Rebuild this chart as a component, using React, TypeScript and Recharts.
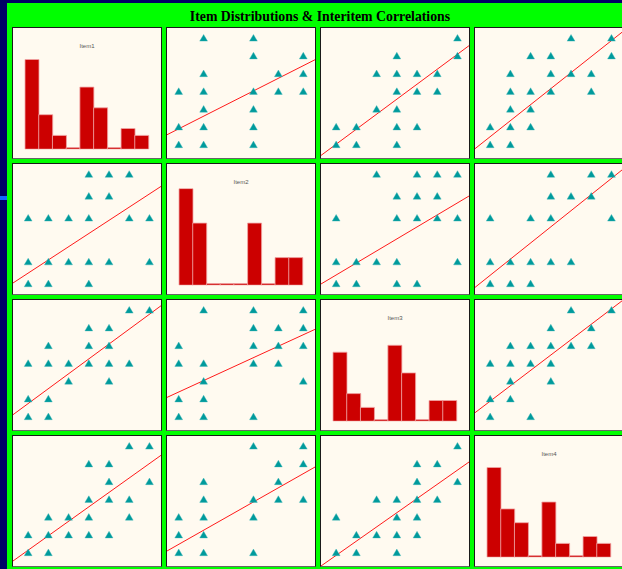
import React from 'react';
import { ScatterChart, Scatter, XAxis, YAxis, ReferenceLine, BarChart, Bar } from 'recharts';

// ---------- data ----------
const itemNames = ['Item1', 'Item2', 'Item3', 'Item4'];
const histBins = ['1', '2', '3', '4', '5', '6', '7', '8', '9'];
const histItem1 = [13, 5, 2, 0, 9, 6, 0, 3, 2];
const histItem2 = [14, 9, 0, 0, 0, 9, 0, 4, 4];
const histItem3 = [10, 4, 2, 0, 11, 7, 0, 3, 3];
const histItem4 = [13, 7, 5, 0, 8, 2, 0, 3, 2];
const histMax = 14;

// axis ranges of each item in the scatter panels
const itemDomains: [number, number][] = [
  [0.25, 7.57],
  [0.53, 6.47],
  [0.25, 7.57],
  [0.25, 7.57],
];

// observed response pairs [first item, second item]
const pairs12 = [[4,6],[5,6],[6,6],[4,5],[5,5],[1,4],[2,4],[3,4],[4,4],[6,4],[7,4],[1,2],[2,2],[3,2],[4,2],[5,2],[7,2],[1,1],[2,1],[4,1]];
const pairs13 = [[6,7],[7,7],[4,6],[5,6],[2,5],[4,5],[5,5],[1,4],[2,4],[3,4],[4,4],[5,4],[6,4],[3,3],[5,3],[1,2],[2,2],[1,1],[2,1]];
const pairs14 = [[6,7],[7,7],[4,6],[5,6],[5,5],[7,5],[4,4],[5,4],[6,4],[2,3],[3,3],[4,3],[6,3],[1,2],[2,2],[3,2],[4,2],[5,2],[1,1],[2,1]];
const pairs23 = [[2,7],[4,7],[6,7],[4,6],[5,6],[6,6],[1,5],[4,5],[5,5],[6,5],[1,4],[2,4],[4,4],[5,4],[2,3],[6,3],[1,2],[2,2],[1,1],[2,1],[4,1]];
const pairs24 = [[4,7],[6,7],[5,6],[6,6],[2,5],[5,5],[2,4],[4,4],[5,4],[6,4],[1,3],[2,3],[4,3],[1,2],[2,2],[1,1],[2,1],[4,1]];
const pairs34 = [[7,7],[5,6],[6,6],[5,5],[7,5],[3,4],[4,4],[5,4],[6,4],[1,3],[4,3],[5,3],[2,2],[3,2],[4,2],[5,2],[1,1],[2,1],[4,1]];

// fitted lines (y item on x item): row = y item, col = x item
const regRow = [0, 0, 0, 1, 1, 1, 2, 2, 2, 3, 3, 3];
const regCol = [1, 2, 3, 0, 2, 3, 0, 1, 3, 0, 1, 2];
const regIntercept = [1.183, 0.185, 0.548, 0.882, 0.85, 0.647, 0.902, 1.744, 1.008, 0.329, 0.673, 0.05];
const regSlope = [0.711, 0.844, 0.902, 0.603, 0.549, 0.738, 0.838, 0.645, 0.866, 0.813, 0.796, 0.8];

// ---------- layout ----------
const W = 622;
const H = 569;
const colLeft = [12, 166, 320, 474];
const rowTop = [27, 163, 299, 435];
const PW = 150;
const PH = 132;

const hists = [histItem1, histItem2, histItem3, histItem4];
const pairTable: Record<string, number[][]> = {
  '0-1': pairs12, '0-2': pairs13, '0-3': pairs14,
  '1-2': pairs23, '1-3': pairs24, '2-3': pairs34,
};

function panelPoints(r: number, c: number) {
  // x = item c, y = item r
  if (c < r) {
    return pairTable[`${c}-${r}`].map(([a, b]) => ({ x: a, y: b }));
  }
  return pairTable[`${r}-${c}`].map(([a, b]) => ({ x: b, y: a }));
}

const Tri = (props: any) => {
  const { cx, cy } = props;
  if (cx == null || cy == null) return null;
  const d = `M${cx},${cy - 3.6} L${cx + 3.9},${cy + 3} L${cx - 3.9},${cy + 3} Z`;
  return <path d={d} fill="#009a9c" stroke="#3bb5b7" strokeWidth={0.4} />;
};

function ScatterPanel({ r, c }: { r: number; c: number }) {
  const data = panelPoints(r, c);
  const xd = itemDomains[c];
  const yd = itemDomains[r];
  let k = 0;
  for (let i = 0; i < regRow.length; i++) if (regRow[i] === r && regCol[i] === c) k = i;
  const a = regIntercept[k];
  const b = regSlope[k];
  return (
    <ScatterChart width={PW - 2} height={PH - 2} margin={{ top: 0, right: 0, bottom: 0, left: 0 }}>
      <XAxis type="number" dataKey="x" domain={xd} allowDataOverflow hide />
      <YAxis type="number" dataKey="y" domain={yd} allowDataOverflow hide />
      <ReferenceLine
        segment={[{ x: xd[0], y: a + b * xd[0] }, { x: xd[1], y: a + b * xd[1] }]}
        stroke="#ff1a1a"
        strokeWidth={1}
        ifOverflow="hidden"
      />
      <Scatter data={data} shape={<Tri />} isAnimationActive={false} />
    </ScatterChart>
  );
}

function HistPanel({ i }: { i: number }) {
  const data = histBins.map((bin, j) => ({ bin, count: hists[i][j] }));
  return (
    <BarChart
      width={PW - 2}
      height={PH - 2}
      data={data}
      margin={{ top: 24.6, right: 12.5, bottom: 8.8, left: 12 }}
      barCategoryGap={0}
      barGap={0}
    >
      <XAxis dataKey="bin" hide />
      <YAxis type="number" domain={[0, histMax]} allowDataOverflow hide />
      <Bar dataKey="count" fill="#cc0000" stroke="#f0a4a4" strokeWidth={0.8} minPointSize={1.6} isAnimationActive={false} />
    </BarChart>
  );
}

export default function App() {
  const panels: React.ReactNode[] = [];
  for (let r = 0; r < 4; r++) {
    for (let c = 0; c < 4; c++) {
      panels.push(
        <div
          key={`${r}-${c}`}
          style={{
            position: 'absolute',
            left: colLeft[c],
            top: rowTop[r],
            width: PW,
            height: PH,
            boxSizing: 'border-box',
            background: '#fffaf0',
            borderTop: '1px solid #1a1a1a',
            borderLeft: '1px solid #1a1a1a',
            borderRight: '1px solid #1a1a1a',
            borderBottom: '1px solid #666',
            overflow: 'hidden',
          }}
        >
          {r === c ? <HistPanel i={r} /> : <ScatterPanel r={r} c={c} />}
          {r === c && (
            <div
              style={{
                position: 'absolute',
                left: 0,
                top: 14.5,
                width: PW - 2,
                textAlign: 'center',
                fontFamily: '"Liberation Sans", Arial, sans-serif',
                fontSize: 6,
                lineHeight: '7px',
                color: '#555',
              }}
            >
              {itemNames[r]}
            </div>
          )}
        </div>
      );
    }
  }
  return (
    <div style={{ position: 'fixed', left: 0, top: 0, width: W, height: H, background: '#000066', overflow: 'hidden' }}>
      <div style={{ position: 'absolute', left: 7, top: 3, width: W, height: H, background: '#00ff00' }} />
      <div style={{ position: 'absolute', left: 0, top: 196, width: 7, height: 4, background: '#1166ff' }} />
      <div
        style={{
          position: 'absolute',
          left: 0,
          top: 9,
          width: 640,
          textAlign: 'center',
          fontFamily: '"Liberation Serif", "Times New Roman", serif',
          fontWeight: 'bold',
          fontSize: 13.8,
          lineHeight: 'normal',
          color: '#000',
        }}
      >
        Item Distributions &amp; Interitem Correlations
      </div>
      {panels}
    </div>
  );
}
